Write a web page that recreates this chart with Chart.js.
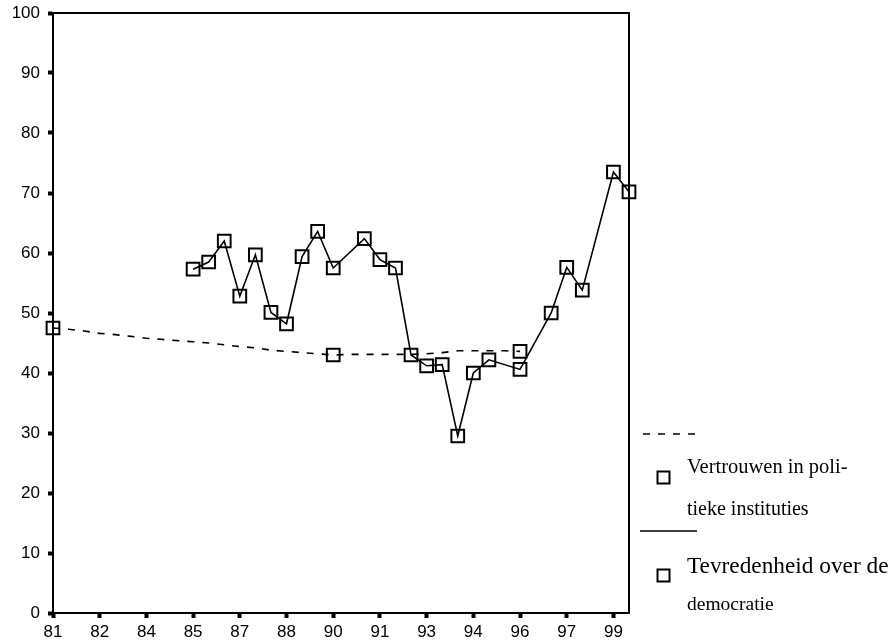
<!DOCTYPE html>
<html><head><meta charset="utf-8">
<script src="https://cdn.jsdelivr.net/npm/chart.js@4.4.0/dist/chart.umd.min.js"></script>
<style>
html,body{margin:0;padding:0;background:#fff;}
#wrap{position:relative;width:894px;height:643px;overflow:hidden;}
#c{position:absolute;left:0;top:0;}
.lg{position:absolute;font-family:"Liberation Serif","Times New Roman",serif;color:#000;white-space:nowrap;line-height:1;}
</style></head><body>
<div id="wrap">
<canvas id="c" width="894" height="643"></canvas>
<svg width="894" height="643" style="position:absolute;left:0;top:0;pointer-events:none">
  <line x1="643" y1="434" x2="697" y2="434" stroke="#000" stroke-width="1.6" stroke-dasharray="7,8"/>
  <rect x="657.5" y="471.5" width="12" height="12" fill="none" stroke="#000" stroke-width="2"/>
  <line x1="640" y1="531" x2="697" y2="531" stroke="#000" stroke-width="1.6"/>
  <rect x="657.5" y="569.5" width="12" height="12" fill="none" stroke="#000" stroke-width="2"/>
</svg>
<div class="lg" id="l1" style="left:687px;top:456px;font-size:20.5px;">Vertrouwen in poli-</div>
<div class="lg" id="l2" style="left:687px;top:498px;font-size:20px;">tieke instituties</div>
<div class="lg" id="l3" style="left:687px;top:554px;font-size:23.3px;">Tevredenheid over de</div>
<div class="lg" id="l4" style="left:687px;top:594px;font-size:19.5px;">democratie</div>
</div>
<script>
const categories = ['81 I','81 II','82 I','82 II','83 I','83 II','84 I','84 II','85 I','85 II',
  '86 I','86 II','87 I','87 II','88 I','88 II','89 I','89 II','90 I','90 II',
  '91 I','91 II','92 I','92 II','93 I','93 II','94 I','94 II','95 I','95 II',
  '96 I','96 II','97 I','97 II','98 I','98 II','99 I','99 II'];
const yTicks = [0,10,20,30,40,50,60,70,80,90,100];
const vertrouwen = [47.5,47.3,47.0,46.6,46.4,46.1,45.8,45.6,45.4,45.2,
  45.0,44.7,44.4,44.2,43.8,43.6,43.4,43.2,43.0,43.1,
  43.1,43.1,43.1,43.1,43.2,43.4,43.7,43.7,43.7,43.7,
  43.6,null,null,null,null,null,null,null];
const vertrouwenMarked = [0,18,30];
const tevredenheid = [null,null,null,null,null,null,null,null,null,57.3,
  58.5,62.0,52.8,59.7,50.1,48.2,59.4,63.6,57.5,null,
  62.4,58.9,57.5,43.0,41.2,41.4,29.5,40.0,42.2,null,
  40.6,null,50.0,57.6,53.8,null,73.5,70.2];

const framePlugin = {
  id:'frame',
  beforeDatasetsDraw(chart){
    const a = chart.chartArea, ctx = chart.ctx;
    ctx.save(); ctx.strokeStyle='#000'; ctx.lineWidth=2;
    ctx.strokeRect(a.left, a.top, a.right-a.left, a.bottom-a.top);
    ctx.restore();
  }
};

new Chart(document.getElementById('c'), {
  type:'line',
  data:{
    labels: categories,
    datasets:[
      {label:'Vertrouwen in politieke instituties', data: vertrouwen,
       borderColor:'#000', borderWidth:1.6, borderDash:[7,8], fill:false, tension:0,
       pointStyle:'rect', pointRadius: c => vertrouwenMarked.includes(c.dataIndex) ? 9 : 0,
       pointBorderColor:'#000', pointBackgroundColor:'rgba(0,0,0,0)', pointBorderWidth:2, spanGaps:false},
      {label:'Tevredenheid over de democratie', data: tevredenheid,
       borderColor:'#000', borderWidth:1.6, fill:false, tension:0, spanGaps:true,
       pointStyle:'rect', pointRadius:9,
       pointBorderColor:'#000', pointBackgroundColor:'rgba(0,0,0,0)', pointBorderWidth:2}
    ]
  },
  options:{
    responsive:false, animation:false, devicePixelRatio:1,
    layout:{padding:{top:4,right:265,left:0,bottom:0}},
    plugins:{legend:{display:false}, tooltip:{enabled:false}},
    scales:{
      x:{type:'category', offset:false,
        grid:{drawOnChartArea:false, drawTicks:true, tickLength:5, tickWidth:4,
          tickColor: c => (c.index % 3 === 0 ? '#000' : 'rgba(0,0,0,0)')},
        border:{display:true, color:'#000', width:2},
        ticks:{autoSkip:false, maxRotation:0, minRotation:0, padding:4, color:'#000',
          font:{family:'Liberation Sans', size:17},
          callback:(v,i) => (i % 3 === 0 ? categories[i].split(' ')[0] : '')},
        afterFit: s => { s.height = 30; }
      },
      y:{min:0, max:100,
        afterBuildTicks: s => { s.ticks = yTicks.map(v => ({value:v})); },
        grid:{drawOnChartArea:false, drawTicks:true, tickLength:5, tickWidth:4, tickColor:'#000'},
        border:{display:true, color:'#000', width:2},
        ticks:{padding:8, color:'#000', font:{family:'Liberation Sans', size:17}},
        afterFit: s => { s.width = 53; s.paddingTop = 13; }
      }
    }
  },
  plugins:[framePlugin]
});
</script>
</body></html>
